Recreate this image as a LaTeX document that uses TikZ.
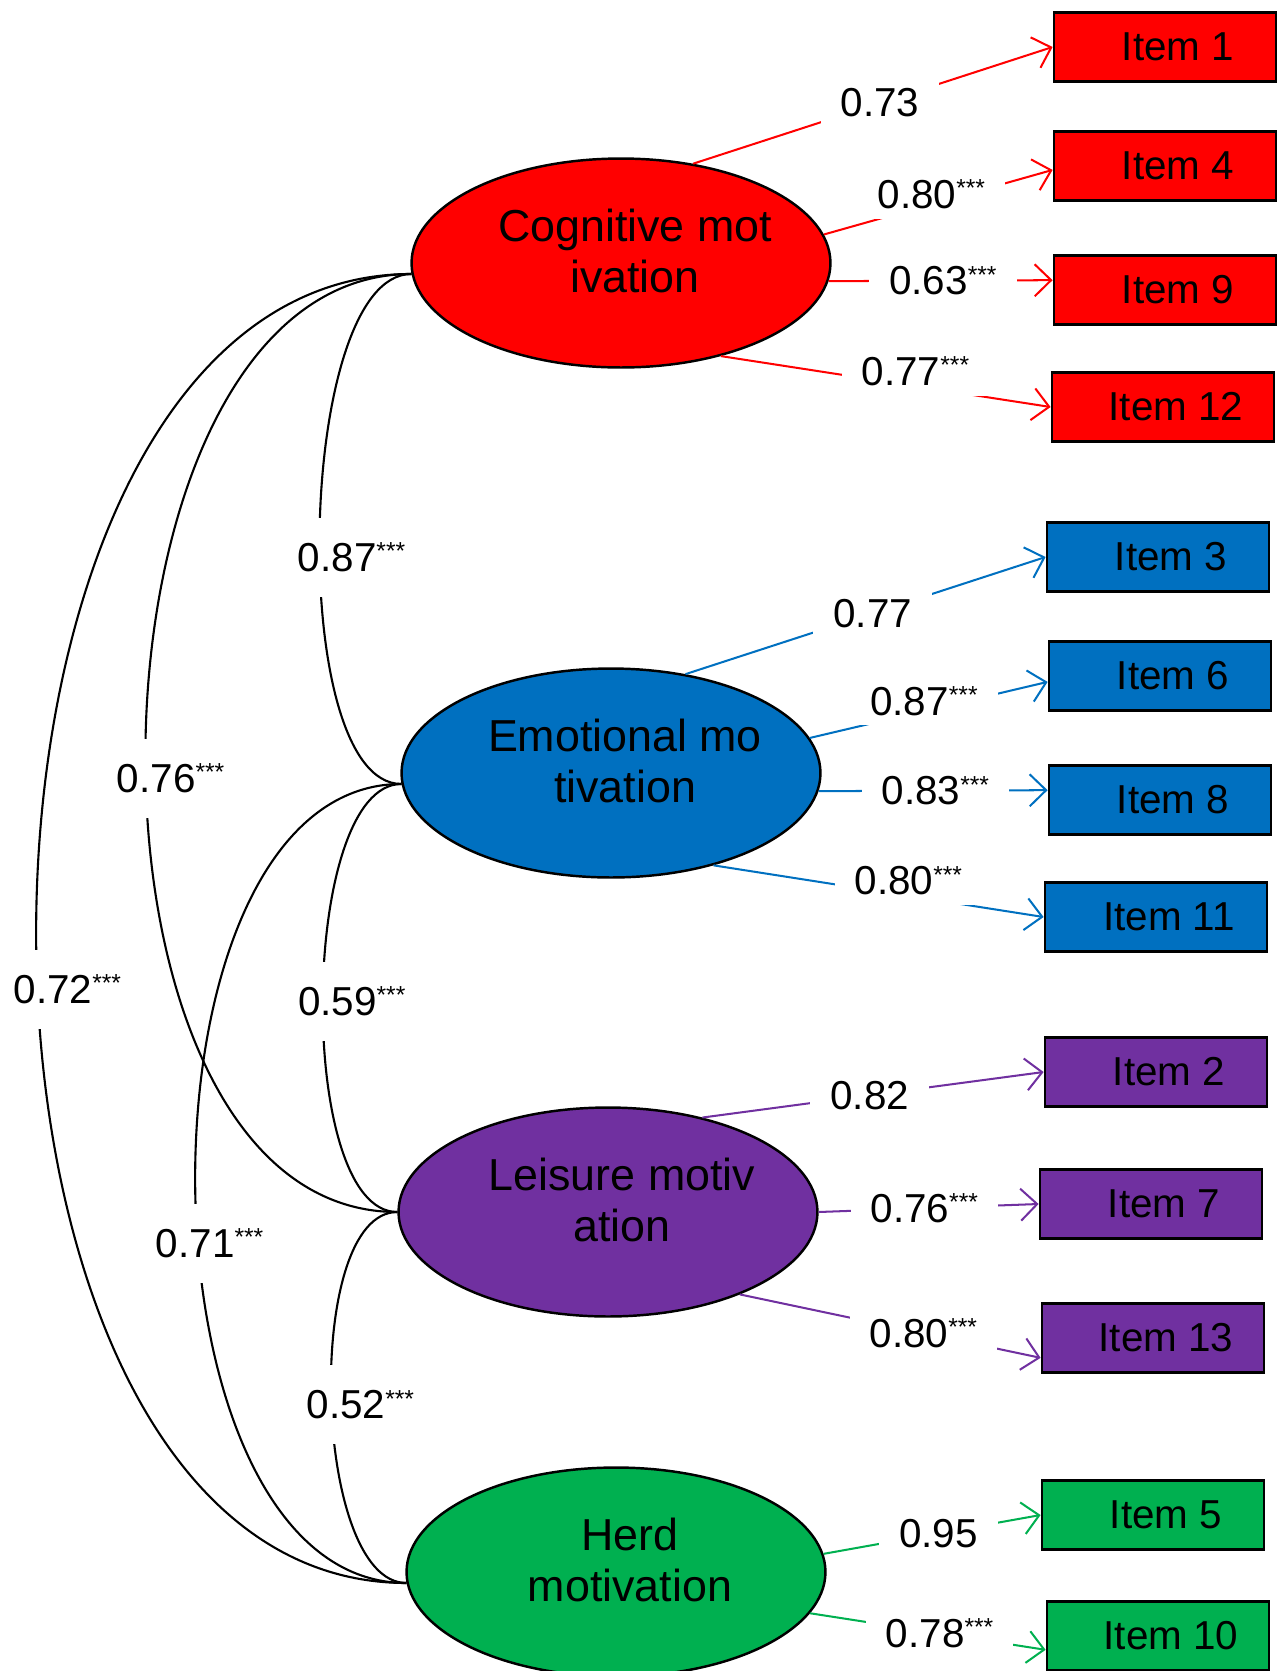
\documentclass[tikz,border=0pt]{standalone}
\usepackage{fontspec}
\setmainfont{Liberation Sans}
\usetikzlibrary{arrows.meta,shapes.geometric}
\definecolor{cogred}{HTML}{FF0000}
\definecolor{emoblue}{HTML}{0070C0}
\definecolor{leipurple}{HTML}{7030A0}
\definecolor{herdgreen}{HTML}{00B050}
\newcommand{\sig}{\raisebox{6.5pt}{\fontsize{14}{14}\selectfont ***}}

\begin{document}
\begin{tikzpicture}[x=0.02cm,y=-0.02cm,
 latent/.style={ellipse,draw=black,line width=1.4pt,minimum width=8.38cm,minimum height=4.18cm,inner sep=0pt},
 lattext/.style={align=center,inner sep=0pt,font=\fontsize{25.5}{28.5}\selectfont},
 itembox/.style={rectangle,draw=black,line width=1.6pt,minimum width=4.44cm,minimum height=1.37cm,inner sep=0pt,font=\fontsize{23}{28}\selectfont},
 loadline/.style={line width=1.15pt,-{Straight Barb[length=0.33cm,width=0.64cm]}},
 loadlbl/.style={fill=white,text=black,inner xsep=0.4cm,inner ysep=0.2cm,font=\fontsize{23}{23}\selectfont},
 covline/.style={line width=1.2pt},
 covlbl/.style={fill=white,inner xsep=0.1cm,inner ysep=0.5cm,font=\fontsize{23}{23}\selectfont}]
\path[use as bounding box,clip] (0,0) rectangle (1284,1671);

% latent factors (text sits a little right of and above the centre)
\node[latent,fill=cogred] (cog) at (621,263) {};
\node[latent,fill=emoblue] (emo) at (611,773) {};
\node[latent,fill=leipurple] (lei) at (608,1212) {};
\node[latent,fill=herdgreen] (herd) at (616,1572) {};
\node[lattext] (cogtxt) at ([shift={(14,-12)}]cog.center) {Cognitive mot\\ivation};
\node[lattext] (emotxt) at ([shift={(14,-12)}]emo.center) {Emotional mo\\tivation};
\node[lattext] (leitxt) at ([shift={(14,-12)}]lei.center) {Leisure motiv\\ation};
\node[lattext] (herdtxt) at ([shift={(14,-12)}]herd.center) {Herd\\motivation};

% observed items
\foreach \n/\x/\y/\col in {1/1165/47/cogred,4/1165/166/cogred,9/1165/290/cogred,12/1163/407/cogred,
 3/1158/557/emoblue,6/1160/676/emoblue,8/1160/800/emoblue,11/1156/917/emoblue,
 2/1156/1072/leipurple,7/1151/1204/leipurple,13/1153/1338/leipurple,
 5/1153/1515/herdgreen,10/1158/1636/herdgreen}
 \node[itembox,fill=\col] (i\n) at (\x,\y) {\hspace*{0.52cm}Item \n};

% loadings: from factor anchor to item anchor, label on the line
\foreach \f/\fa/\t/\ta/\p/\ys/\v/\col in {
 cog/54/i1/180/0.52/0/{0.73}/cogred, cog/8/i4/182/0.47/0.2/{0.80\sig}/cogred,
 cog/-5/i9/175/0.51/0/{0.63\sig}/cogred, cog/-43/i12/180/0.59/0.3/{0.77\sig}/cogred,
 emo/53/i3/180/0.52/0/{0.77}/emoblue, emo/10/i6/183/0.48/0.2/{0.87\sig}/emoblue,
 emo/-5/i8/175/0.51/0/{0.83\sig}/emoblue, emo/-42/i11/180/0.59/0.3/{0.80\sig}/emoblue,
 lei/45/i2/180/0.49/0/{0.82}/leipurple, lei/0/i7/180/0.48/0/{0.76\sig}/leipurple,
 lei/-32/i13/190/0.61/0/{0.80\sig}/leipurple,
 herd/5/i5/180/0.53/0/{0.95}/herdgreen, herd/-12/i10/187/0.55/0/{0.78\sig}/herdgreen}
 \draw[loadline,\col] (\f.\fa) -- node[loadlbl,pos=\p,yshift=\ys cm] {\v} (\t.\ta);

% factor covariances
\draw[covline] (cog.183) to[out=180,in=180,looseness=0.58] node[covlbl,pos=0.537,xshift=0.64cm] {0.87\sig} (emo.183);
\draw[covline] (cog.183) to[out=180,in=180,looseness=0.94] node[covlbl,pos=0.525,xshift=0.5cm] {0.76\sig} (lei.west);
\draw[covline] (cog.183) to[out=180,in=180,looseness=0.97] node[covlbl,pos=0.531,xshift=0.6cm] {0.72\sig} (herd.183);
\draw[covline] (emo.183) to[out=180,in=180,looseness=0.61] node[covlbl,pos=0.505,xshift=0.58cm] {0.59\sig} (lei.west);
\draw[covline] (emo.183) to[out=180,in=180,looseness=0.89] node[covlbl,pos=0.55,xshift=0.24cm] {0.71\sig} (herd.183);
\draw[covline] (lei.west) to[out=180,in=180,looseness=0.65] node[covlbl,pos=0.513,xshift=0.58cm] {0.52\sig} (herd.183);
\end{tikzpicture}
\end{document}
